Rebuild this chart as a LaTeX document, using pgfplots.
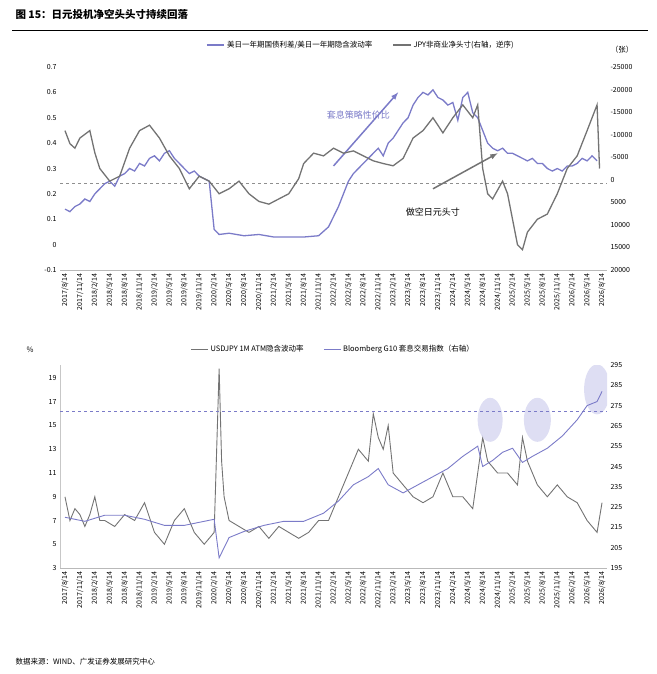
\documentclass[border=0pt]{standalone}
\usepackage{pgfplots}
\pgfplotsset{compat=1.18}
\usepackage{fontspec}
\setmainfont{Noto Sans CJK SC}
\definecolor{bl}{RGB}{123,123,200}
\definecolor{gr}{RGB}{115,115,115}
\definecolor{lav}{RGB}{214,214,240}
\pgfplotsset{
 every axis/.append style={scale only axis, width=547pt, xmin=-1, xmax=109, xtick={0,3,...,108},
   tick style={draw=none}, /pgf/number format/assume math mode=true,
   tick label style={font=\fontsize{7}{8}\selectfont}},
}
\def\dates{2017/8/14,2017/11/14,2018/2/14,2018/5/14,2018/8/14,2018/11/14,2019/2/14,2019/5/14,2019/8/14,2019/11/14,2020/2/14,2020/5/14,2020/8/14,2020/11/14,2021/2/14,2021/5/14,2021/8/14,2021/11/14,2022/2/14,2022/5/14,2022/8/14,2022/11/14,2023/2/14,2023/5/14,2023/8/14,2023/11/14,2024/2/14,2024/5/14,2024/8/14,2024/11/14,2025/2/14,2025/5/14,2025/8/14,2025/11/14,2026/2/14,2026/5/14,2026/8/14}
\begin{document}
\begin{tikzpicture}
\path (0pt,0pt) rectangle (656pt,-674pt);
\node[anchor=west,font=\bfseries\fontsize{10.5}{12}\selectfont] at (12pt,-14pt) {图 15：日元投机净空头头寸持续回落};
\draw[line width=0.8pt] (12pt,-30pt) -- (648pt,-30pt);
\node[anchor=west,font=\fontsize{7.5}{9}\selectfont] at (12pt,-662pt) {数据来源：WIND、广发证券发展研究中心};
% ---------- top panel
\begin{axis}[at={(60pt,-270pt)}, anchor=south west, height=203pt, ymin=-0.1, ymax=0.7,
  ytick={-0.1,0,...,0.7}, yticklabel style={/pgf/number format/fixed}, axis y line*=left, y axis line style={draw=none},
  axis x line*=bottom, x axis line style={draw=gr!50},
  xticklabels/.expanded={\dates}, xticklabel style={rotate=90,anchor=east},
  legend style={at={(0.55,1.07)},anchor=south,draw=none,legend columns=2,font=\fontsize{7.5}{9}\selectfont,/tikz/every even column/.style={column sep=18pt}},
  legend image post style={line width=2pt}]
\addlegendimage{bl} \addlegendentry{美日一年期国债利差/美日一年期隐含波动率}
\addlegendimage{gr} \addlegendentry{JPY非商业净头寸(右轴，逆序)}
\draw[gr!80,dashed,line width=1pt] (axis cs:-1,0.24) -- (axis cs:109,0.24);
\addplot[bl,line width=1.3pt] coordinates {(0,0.14)(1,0.13)(2,0.15)(3,0.16)(4,0.18)(5,0.17)(6,0.2)(7,0.22)(8,0.24)(9,0.25)(10,0.23)(11,0.27)(12,0.28)(13,0.30)(14,0.29)(15,0.32)(16,0.31)(17,0.34)(18,0.35)(19,0.33)(20,0.36)(21,0.37)(22,0.34)(23,0.32)(24,0.30)(25,0.28)(26,0.29)(27,0.27)(28,0.26)(29,0.25)(30,0.06)(31,0.04)(33,0.045)(36,0.035)(39,0.04)(42,0.03)(45,0.03)(48,0.03)(51,0.035)(53,0.07)(54,0.11)(55,0.15)(56,0.2)(57,0.25)(58,0.28)(60,0.32)(61,0.34)(62,0.36)(63,0.38)(64,0.35)(65,0.40)(66,0.42)(67,0.45)(68,0.48)(69,0.5)(70,0.55)(71,0.58)(72,0.6)(73,0.59)(74,0.61)(75,0.58)(76,0.57)(77,0.55)(78,0.56)(79,0.49)(80,0.58)(81,0.6)(82,0.52)(83,0.5)(84,0.45)(85,0.40)(86,0.38)(87,0.37)(88,0.38)(89,0.36)(90,0.36)(91,0.35)(92,0.34)(93,0.33)(94,0.34)(95,0.32)(96,0.32)(97,0.30)(98,0.29)(99,0.30)(100,0.29)(101,0.31)(102,0.31)(103,0.32)(104,0.34)(105,0.33)(106,0.35)(107,0.33)};
\draw[-latex,bl,line width=1.5pt] (axis cs:54,0.31) -- (axis cs:67,0.6);
\node[bl,font=\fontsize{9}{10}\selectfont] at (axis cs:59,0.51) {套息策略性价比};
\draw[-latex,gr,line width=1.5pt] (axis cs:74,0.22) -- (axis cs:87,0.36);
\node[font=\fontsize{9}{10}\selectfont] at (axis cs:74,0.13) {做空日元头寸};
\end{axis}
\begin{axis}[at={(60pt,-270pt)}, anchor=south west, height=203pt, y dir=reverse, ymin=-25000, ymax=20000,
  ytick={-25000,-20000,...,20000}, axis y line*=right, axis x line=none, y axis line style={draw=none},
  scaled y ticks=false, yticklabel style={/pgf/number format/.cd,fixed,1000 sep={}}]
\addplot[gr,line width=1.3pt] coordinates {(0,-10900)(1,-8000)(2,-7000)(3,-9250)(5,-10900)(6,-6000)(7,-2500)(9,300)(11,-800)(13,-7000)(15,-10900)(17,-12100)(19,-9250)(21,-5300)(23,-2500)(25,2000)(27,-800)(29,300)(31,3100)(33,2000)(35,300)(37,3100)(39,4800)(41,5400)(43,4250)(45,3100)(47,-250)(48,-3600)(50,-5900)(52,-5300)(54,-7000)(56,-5900)(58,-6400)(60,-5300)(62,-4200)(64,-3600)(66,-3100)(68,-4750)(70,-9250)(72,-10900)(74,-13750)(76,-10400)(78,-13750)(80,-16600)(82,-13750)(83,-16600)(84,-2500)(85,3100)(86,4250)(88,300)(89,3100)(90,8750)(91,14400)(92,15500)(93,11600)(95,8750)(97,7600)(99,3100)(101,-2500)(103,-5300)(105,-10900)(106,-13750)(107,-16600)(107.5,-2500)};
\end{axis}
\node[font=\fontsize{7.5}{9}\selectfont] at (622pt,-50pt) {（张）};
% ---------- bottom panel
\begin{axis}[at={(60pt,-568pt)}, anchor=south west, height=203pt, ymin=3, ymax=20.1,
  ytick={3,5,...,19}, axis x line*=bottom, axis y line*=left, y axis line style={draw=gr!40}, x axis line style={draw=gr!50},
  xticklabels/.expanded={\dates}, xticklabel style={rotate=90,anchor=east},
  legend style={at={(0.5,1.04)},anchor=south,draw=none,legend columns=2,font=\fontsize{7.5}{9}\selectfont,/tikz/every even column/.style={column sep=18pt}}]
\addlegendimage{gr} \addlegendentry{USDJPY 1M ATM隐含波动率}
\addlegendimage{bl} \addlegendentry{Bloomberg G10 套息交易指数（右轴）}
\addplot[gr,line width=0.9pt] coordinates {(0,9)(1,7)(2,8)(3,7.5)(4,6.5)(5,7.5)(6,9)(7,7)(8,7)(10,6.5)(12,7.5)(14,7)(16,8.5)(18,6)(20,5)(22,7)(24,8)(26,6)(28,5)(30,6)(31,19.8)(31.5,12)(32,9)(33,7)(35,6.5)(37,6)(39,6.5)(41,5.5)(43,6.5)(45,6)(47,5.5)(49,6)(51,7)(53,7)(55,9)(57,11)(59,13)(61,12)(62,16)(63,14)(64,13)(65,15)(66,11)(68,10)(70,9)(72,8.5)(74,9)(76,11)(78,9)(80,9)(82,8)(84,14)(85,12)(87,11)(89,11)(91,10)(92,14)(93,12)(95,10)(97,9)(99,10)(101,9)(103,8.5)(105,7)(106,6.5)(107,6)(108,8.5)};
\end{axis}
\node[font=\fontsize{7.5}{9}\selectfont] at (30pt,-350pt) {\%};
\begin{axis}[at={(60pt,-568pt)}, anchor=south west, height=203pt, ymin=195, ymax=295,
  ytick={195,205,...,295}, axis y line*=right, axis x line=none, y axis line style={draw=none}]
\fill[lav,opacity=0.8] (axis cs:85.5,268) ellipse [x radius=12.5pt, y radius=22pt];
\fill[lav,opacity=0.8] (axis cs:95,268) ellipse [x radius=13.5pt, y radius=22pt];
\fill[lav,opacity=0.8] (axis cs:107,283) ellipse [x radius=13pt, y radius=25pt];
\draw[bl,dashed,line width=1pt] (axis cs:-1,272) -- (axis cs:109,272);
\addplot[bl,line width=0.9pt] coordinates {(0,220)(4,218)(8,221)(12,221)(16,219)(20,216)(24,216)(28,218)(30,219)(31,200)(33,210)(36,213)(40,216)(44,218)(48,218)(52,222)(55,228)(58,236)(61,240)(63,244)(65,236)(68,232)(71,236)(74,240)(77,244)(80,250)(83,255)(84,245)(86,248)(88,252)(90,254)(92,247)(94,250)(97,254)(100,260)(103,268)(105,275)(107,277)(108,282)};
\end{axis}
\end{tikzpicture}
\end{document}
